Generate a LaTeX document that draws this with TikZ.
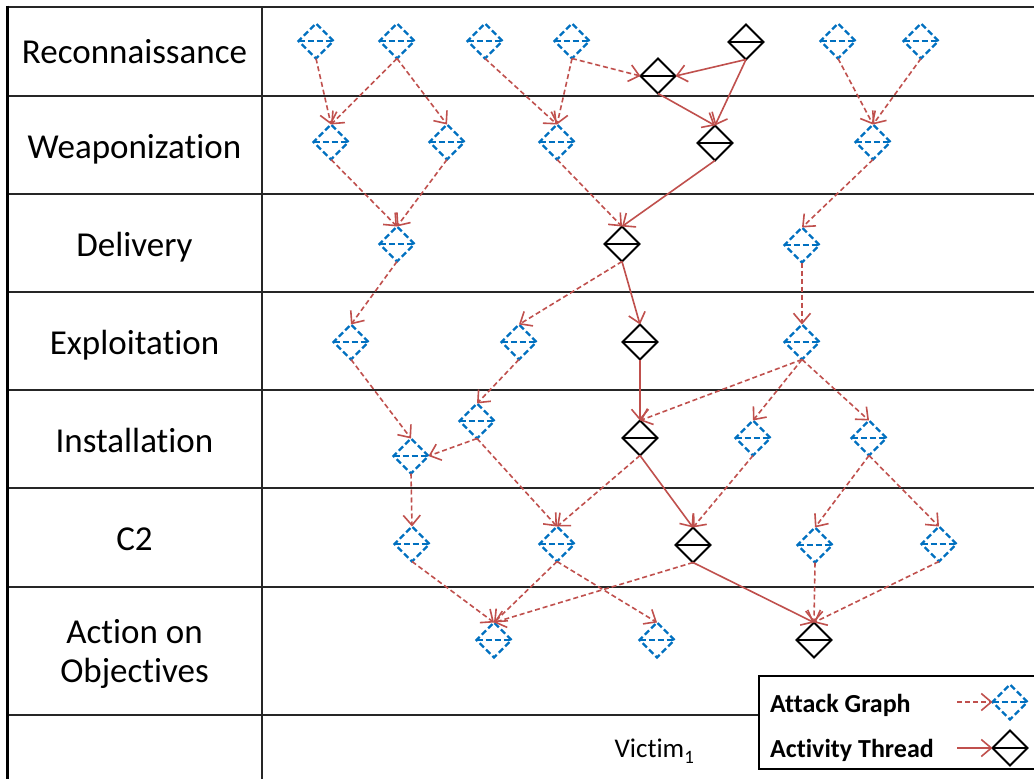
\documentclass[tikz,border=0pt]{standalone}
\usepackage{fontspec}
\setmainfont{Carlito}[Ligatures=NoCommon]
\usetikzlibrary{shapes.geometric,arrows.meta}
\definecolor{agblue}{RGB}{0,112,192}
\definecolor{arrred}{RGB}{192,80,77}
\tikzset{
  atknode/.style={diamond, draw=agblue, line width=2.2pt, dash pattern=on 6pt off 3pt,
    minimum width=35pt, minimum height=35pt, inner sep=0pt, outer sep=0pt,
    path picture={\draw[agblue, line width=2.2pt, dash pattern=on 6pt off 3pt]
      (path picture bounding box.west) -- (path picture bounding box.east);}},
  actnode/.style={diamond, draw=black, line width=2pt,
    minimum width=35pt, minimum height=35pt, inner sep=0pt, outer sep=0pt,
    path picture={\draw[black, line width=2pt]
      (path picture bounding box.west) -- (path picture bounding box.east);}},
  agedge/.style={draw=arrred, line width=1.6pt, dash pattern=on 5pt off 3pt,
    -{Straight Barb[length=10pt,width=17pt,line width=1.6pt]}},
  atedge/.style={draw=arrred, line width=1.6pt,
    -{Straight Barb[length=10pt,width=17pt,line width=1.6pt]}},
  rowlab/.style={font=\fontsize{35}{39}\selectfont, align=center, inner sep=0pt},
  gridline/.style={line width=1.8pt, black!85},
  legtext/.style={font=\fontsize{26}{30}\selectfont\bfseries, anchor=base west, inner sep=0pt}
}
\begin{document}
\begin{tikzpicture}[x=1pt,y=-1pt]
\useasboundingbox (0,0) rectangle (1034,779);
\fill[white] (0,0) rectangle (1034,779);
% table
\draw[gridline] (7,7) -- (1034,7);
\foreach \yy in {96,194,292,390,488,587} \draw[gridline] (7,\yy) -- (1034,\yy);
\draw[gridline] (7,715) -- (759,715);
\draw[line width=3pt] (7.5,5.5) -- (7.5,779);
\draw[gridline] (262,7) -- (262,779);
% row labels
\node[rowlab, anchor=base] (l1) at (134.5,63.5) {Reconnaissance};
\node[rowlab, anchor=base] (l2) at (134.5,158) {Weaponization};
\node[rowlab, anchor=base] (l3) at (134.5,256) {Delivery};
\node[rowlab, anchor=base] (l4) at (134.5,354) {Exploitation};
\node[rowlab, anchor=base] (l5) at (134.5,452) {Installation};
\node[rowlab, anchor=base] (l6) at (134.5,550) {C2};
\node[rowlab, anchor=center] (l7) at (134.5,654) {Action on\\Objectives};
\node[font=\fontsize{27}{30}\selectfont, anchor=base, inner sep=0pt] (victim) at (654.5,757) {Victim\textsubscript{\raisebox{-3pt}{1}}};
% nodes
\node[atknode] (R1) at (316,41) {};
\node[atknode] (R2) at (397,41) {};
\node[atknode] (R3) at (485,41) {};
\node[atknode] (R4) at (572,41) {};
\node[actnode] (Rb1) at (658,76) {};
\node[actnode] (Rb2) at (746,42) {};
\node[atknode] (R6) at (838,41) {};
\node[atknode] (R7) at (921,41) {};
\node[atknode] (W1) at (331,142) {};
\node[atknode] (W2) at (447,142) {};
\node[atknode] (W3) at (557,142) {};
\node[actnode] (Wb) at (715,143) {};
\node[atknode] (W5) at (873,142) {};
\node[atknode] (D1) at (397,244) {};
\node[actnode] (Db) at (622,244) {};
\node[atknode] (D3) at (802,245) {};
\node[atknode] (E1) at (351,342) {};
\node[atknode] (E2) at (519,342) {};
\node[actnode] (Eb) at (640,342) {};
\node[atknode] (E4) at (802,342) {};
\node[atknode] (I1) at (411,456) {};
\node[atknode] (I2) at (477,421) {};
\node[actnode] (Ib) at (640,438) {};
\node[atknode] (I4) at (753,438) {};
\node[atknode] (I5) at (869,438) {};
\node[atknode] (C1) at (412,544) {};
\node[atknode] (C2) at (557,544) {};
\node[actnode] (Cb) at (693,545) {};
\node[atknode] (C4) at (815,545) {};
\node[atknode] (C5) at (939,544) {};
\node[atknode] (A1) at (494,640) {};
\node[atknode] (A2) at (657,640) {};
\node[actnode] (Ab) at (814,640) {};
% edges
\draw[agedge] (R1.south) -- (W1.north);
\draw[agedge] (R2.south) -- (W1.north);
\draw[agedge] (R2.south) -- (W2.north);
\draw[agedge] (R3.south) -- (W3.north);
\draw[agedge] (R4.south) -- (W3.north);
\draw[agedge] (R4.south) -- (Rb1.west);
\draw[atedge] (Rb2.south) -- (Rb1.east);
\draw[atedge] (Rb2.south) -- (Wb.north);
\draw[atedge] (Rb1.south) -- (Wb.north);
\draw[agedge] (R6.south) -- (W5.north);
\draw[agedge] (R7.south) -- (W5.north);
\draw[agedge] (W1.south) -- (D1.north);
\draw[agedge] (W2.south) -- (D1.north);
\draw[agedge] (W3.south) -- (Db.north);
\draw[atedge] (Wb.south) -- (Db.north);
\draw[agedge] (W5.south) -- (D3.north);
\draw[agedge] (D1.south) -- (E1.north);
\draw[agedge] (Db.south) -- (E2.north);
\draw[atedge] (Db.south) -- (Eb.north);
\draw[agedge] (D3.south) -- (E4.north);
\draw[agedge] (E1.south) -- (I1.north);
\draw[agedge] (E2.south) -- (I2.north);
\draw[atedge] (Eb.south) -- (Ib.north);
\draw[agedge] (E4.south) -- (Ib.north);
\draw[agedge] (E4.south) -- (I4.north);
\draw[agedge] (E4.south) -- (I5.north);
\draw[agedge] (I2.south) -- (I1.east);
\draw[agedge] (I1.south) -- (C1.north);
\draw[agedge] (I2.south) -- (C2.north);
\draw[agedge] (Ib.south) -- (C2.north);
\draw[atedge] (Ib.south) -- (Cb.north);
\draw[agedge] (I4.south) -- (Cb.north);
\draw[agedge] (I5.south) -- (C4.north);
\draw[agedge] (I5.south) -- (C5.north);
\draw[agedge] (C1.south) -- (A1.north);
\draw[agedge] (C2.south) -- (A1.north);
\draw[agedge] (C2.south) -- (A2.north);
\draw[agedge] (Cb.south) -- (A1.north);
\draw[atedge] (Cb.south) -- (Ab.north);
\draw[agedge] (C4.south) -- (Ab.north);
\draw[agedge] (C5.south) -- (Ab.north);
% legend
\draw[line width=1.8pt, fill=white] (759,676) rectangle (1045,769);
\node[legtext] (legA) at (770,712) {Attack Graph};
\node[legtext] (legB) at (770,757) {Activity Thread};
\node[atknode] (legAG) at (1010,702) {};
\node[actnode] (legAT) at (1010,748) {};
\coordinate (legAs) at (957,702);
\coordinate (legBs) at (957,748);
\draw[agedge] (legAs) -- (legAG.west);
\draw[atedge] (legBs) -- (legAT.west);
\end{tikzpicture}
\end{document}
